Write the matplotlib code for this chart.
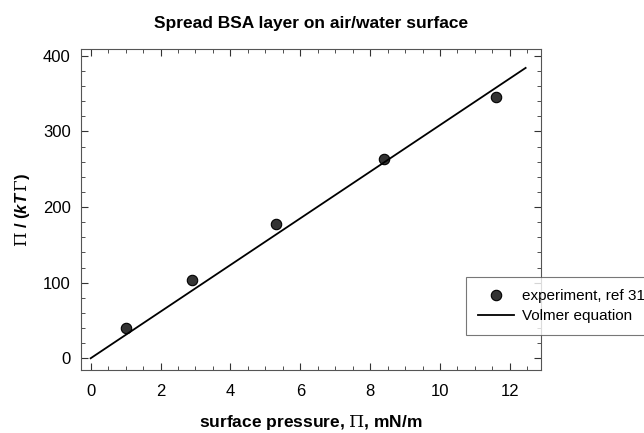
import matplotlib
matplotlib.use("Agg")
import matplotlib.pyplot as plt
from matplotlib.ticker import MultipleLocator

plt.rcParams['font.family'] = ['Liberation Sans', 'DejaVu Sans']
plt.rcParams['mathtext.fontset'] = 'custom'
plt.rcParams['mathtext.rm'] = 'DejaVu Serif'
plt.rcParams['mathtext.bfit'] = 'Liberation Sans:italic:bold'

# experiment, ref 31
pressure = [1.0, 2.9, 5.3, 8.4, 11.6]
pi_over_ktg = [40, 103, 178, 263, 345]

# Volmer equation line
volmer_x = [0.0, 12.45]
volmer_y = [0.0, 384.0]

fig = plt.figure(figsize=(6.44, 4.33), dpi=100)
ax = fig.add_axes([80.5 / 644, 1 - 370 / 433, (541 - 80.5) / 644, (370 - 49) / 433])

ax.plot(pressure, pi_over_ktg, 'o', color='#333333', markeredgecolor='black',
        markersize=7.5, markeredgewidth=0.8, label='experiment, ref 31')
ax.plot(volmer_x, volmer_y, '-', color='black', linewidth=1.3, label='Volmer equation')

ax.set_xlim(-0.29, 12.89)
ax.set_ylim(-15.5, 409)
ax.xaxis.set_major_locator(MultipleLocator(2))
ax.xaxis.set_minor_locator(MultipleLocator(0.5))
ax.yaxis.set_major_locator(MultipleLocator(100))
ax.yaxis.set_minor_locator(MultipleLocator(20))
ax.tick_params(which='both', direction='in', top=True, right=True,
               labelsize=12, colors='#333333', labelcolor='black')
ax.tick_params(which='major', length=5)
ax.tick_params(which='minor', length=3)
ax.tick_params(axis='x', pad=10)
ax.tick_params(axis='y', pad=7)
for s in ax.spines.values():
    s.set_color('#555555')

ax.set_title("Spread BSA layer on air/water surface", fontsize=12.5, fontweight='bold', pad=15)
ax.set_xlabel(r"surface pressure, $\mathrm{\Pi}$, mN/m", fontsize=12.5, fontweight='bold', labelpad=10)
ax.set_ylabel(r"$\mathrm{\Pi}$ / ($\mathbfit{kT}\,\mathrm{\Gamma}$)", fontsize=12, fontweight='bold', labelpad=8)

leg = fig.legend(loc='upper left', bbox_to_anchor=(466 / 644, 1 - 277 / 433),
                 fontsize=11, frameon=True, fancybox=False, edgecolor='#555555',
                 borderaxespad=0, borderpad=0.8, handlelength=2.35, handletextpad=0.5,
                 labelspacing=0.38)
leg.get_frame().set_linewidth(0.8)

fig.savefig("out.png", dpi=100)
